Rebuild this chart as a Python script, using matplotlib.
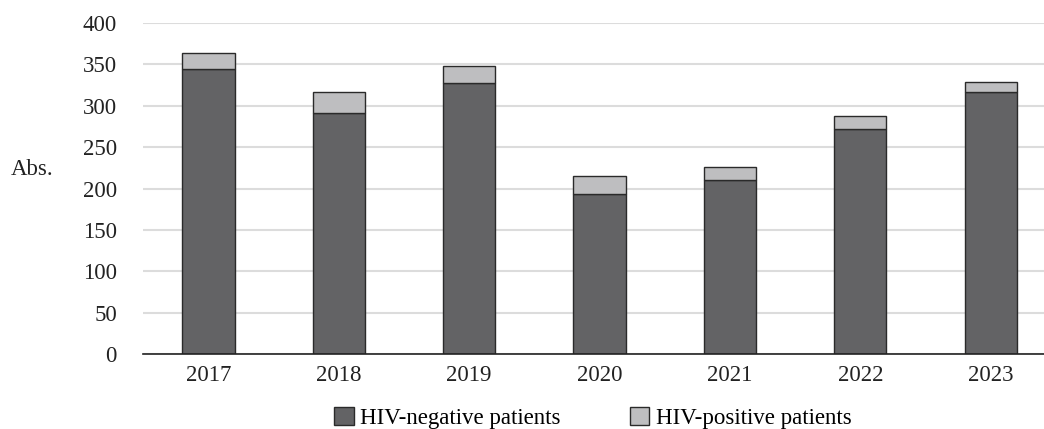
import matplotlib.pyplot as plt
import numpy as np

years = ["2017", "2018", "2019", "2020", "2021", "2022", "2023"]
hiv_negative = [344, 291, 327, 193, 210, 272, 316]
hiv_positive = [20, 25, 21, 22, 16, 16, 12]

plt.rcParams['font.family'] = ['Liberation Serif', 'DejaVu Serif']

fig = plt.figure(figsize=(10.44, 4.29), dpi=100)
ax = fig.add_axes([0.1373, 0.1741, 0.874, 0.773])

x = np.arange(len(years))
ax.bar(x, hiv_negative, width=0.40, color='#636365', edgecolor='#2a2a2a',
       linewidth=1.0, label='HIV-negative patients', zorder=3)
ax.bar(x, hiv_positive, width=0.40, bottom=hiv_negative, color='#bebec0',
       edgecolor='#2a2a2a', linewidth=1.0, label='HIV-positive patients', zorder=3)

ax.set_xlim(-0.5, 6.5)
ax.set_ylim(0, 400)
ax.set_yticks(range(0, 401, 50))
ax.set_xticks(x)
ax.set_xticklabels(years)
ax.yaxis.grid(True, color='#dcdcdc', linewidth=1.5, zorder=0)
ax.set_axisbelow(True)

for s in ['top', 'right', 'left']:
    ax.spines[s].set_visible(False)
ax.spines['bottom'].set_color('#222222')
ax.spines['bottom'].set_linewidth(1.2)
ax.spines['bottom'].set_zorder(4)

ax.tick_params(axis='both', length=0, labelsize=16.5, colors='#222222')
ax.tick_params(axis='y', pad=19)
ax.tick_params(axis='x', pad=8)

fig.text(0.010, 0.605, "Abs.", fontsize=16.5, color='#222222', va='center', ha='left')

fig.legend(loc='lower center', bbox_to_anchor=(0.568, -0.048), ncol=2,
           frameon=False, fontsize=16.5, handlelength=0.85, handleheight=0.85,
           handletextpad=0.3, columnspacing=3.0)

fig.savefig("out.png", dpi=100)
